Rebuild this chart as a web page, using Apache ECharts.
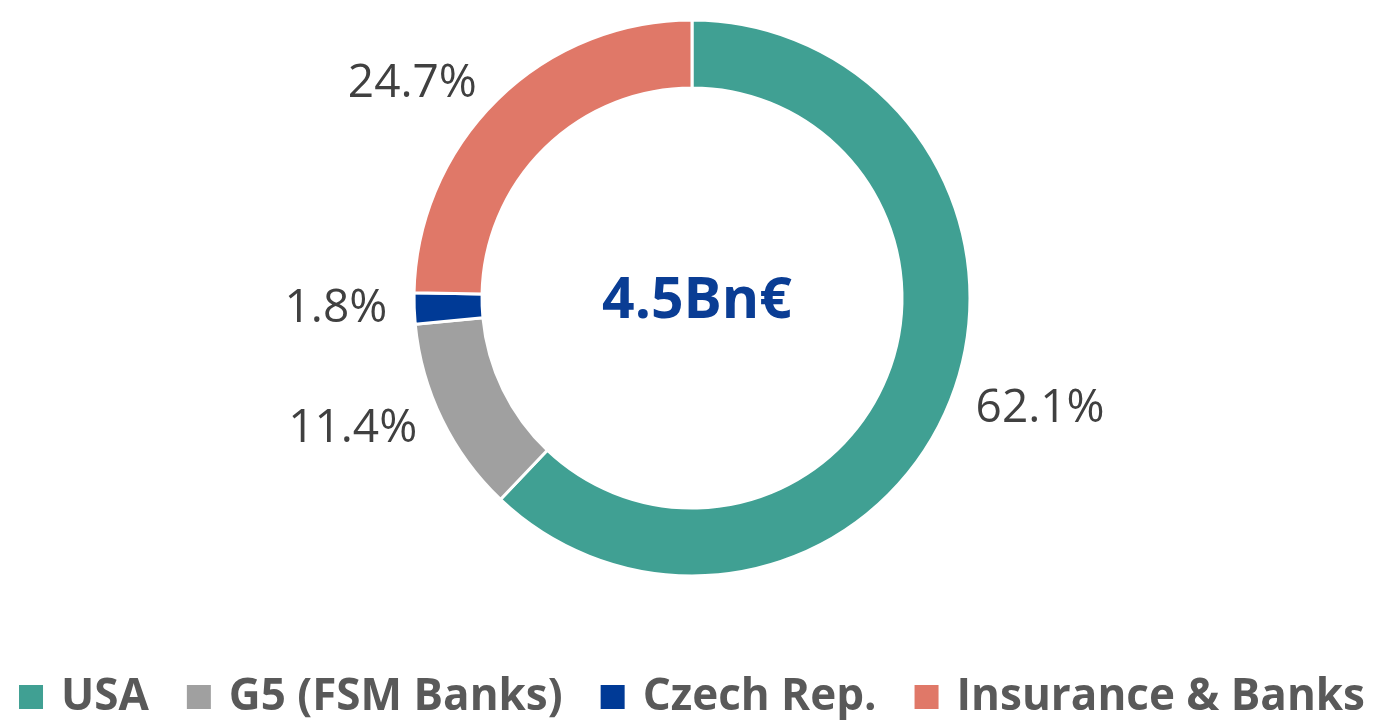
<!DOCTYPE html>
<html>
<head>
<meta charset="utf-8">
<script src="https://cdn.jsdelivr.net/npm/echarts@6/dist/echarts.min.js"></script>
<style>
  html, body { margin: 0; padding: 0; background: #fff; }
  #main { width: 1382px; height: 720px; }
</style>
</head>
<body>
<div id="main"></div>
<script>
// 各地区占比 (%)
var categories = ['USA', 'G5 (FSM Banks)', 'Czech Rep.', 'Insurance & Banks'];
var shares = [62.1, 11.4, 1.8, 24.7];
var colors = ['#40a093', '#a0a0a0', '#003a96', '#e07868'];
var centerText = '4.5Bn€';

var myChart = echarts.init(document.getElementById('main'));
var option;
option = {
  color: colors,
  title: {
    text: centerText,
    left: 692,
    top: 297,
    textAlign: 'center',
    textVerticalAlign: 'middle',
    textStyle: {
      fontFamily: 'Open Sans',
      fontWeight: 'bold',
      fontSize: 57,
      color: '#0a3d94'
    }
  },
  legend: {
    bottom: -4,
    left: 'center',
    itemWidth: 26,
    itemHeight: 26,
    itemGap: 36,
    icon: 'rect',
    textStyle: {
      fontFamily: 'Open Sans',
      fontWeight: 'bold',
      fontSize: 44,
      color: '#595959',
      padding: [0, 0, 0, 12]
    },
    data: categories
  },
  series: [
    {
      type: 'pie',
      center: [692, 298],
      radius: [210, 278],
      startAngle: 90,
      clockwise: true,
      avoidLabelOverlap: false,
      itemStyle: {
        borderColor: '#fff',
        borderWidth: 3
      },
      label: {
        show: true,
        position: 'outside',
        formatter: function (p) { return p.value.toFixed(1) + '%'; },
        fontFamily: 'Open Sans',
        fontSize: 46,
        color: '#404040'
      },
      labelLine: { show: false, length: 22, length2: 0 },
      data: categories.map(function (c, i) {
        return { name: c, value: shares[i] };
      })
    }
  ]
};
option && myChart.setOption(option);
</script>
</body>
</html>
